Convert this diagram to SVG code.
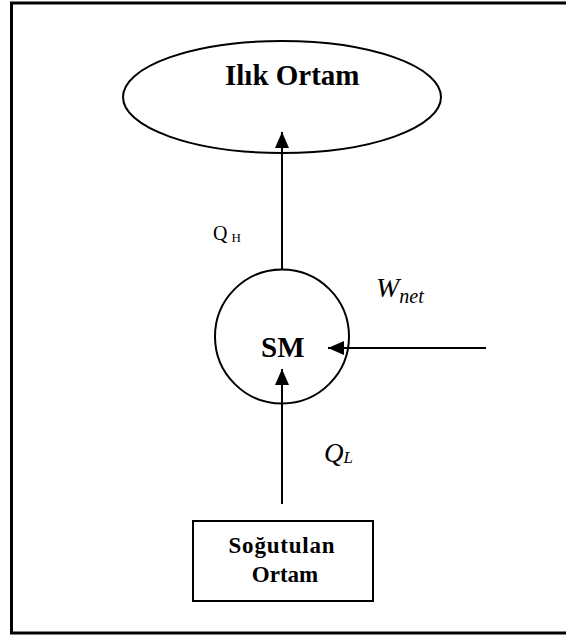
<svg xmlns="http://www.w3.org/2000/svg" width="566" height="636" viewBox="0 0 566 636">
  <style>
    .shape { fill: #fff; stroke: #000; stroke-width: 2; }
    .edge { fill: none; stroke: #000; stroke-width: 2; }
    .bold { font-family: "Liberation Serif", "Times New Roman", serif; font-weight: bold; fill: #000; }
    .sym { font-family: "Liberation Serif", "Times New Roman", serif; fill: #000; }
    .it { font-style: italic; }
  </style>
  <defs>
    <marker id="arrow" markerUnits="userSpaceOnUse" markerWidth="16" markerHeight="16" viewBox="0 0 16 14" refX="16" refY="7" orient="auto">
      <path d="M0,0 L16,7 L0,14 Z" fill="#000"/>
    </marker>
  </defs>

  <rect width="566" height="636" fill="#fff"/>
  <!-- outer frame -->
  <rect x="11.5" y="3" width="600" height="630" fill="none" stroke="#000" stroke-width="3"/>

  <g id="ilik-ortam">
    <ellipse class="shape" cx="282" cy="97" rx="159" ry="56"/>
    <text class="bold" x="225" y="85" font-size="29">Ilık Ortam</text>
  </g>

  <g id="sm">
    <circle class="shape" cx="282" cy="336.5" r="67"/>
    <text class="bold" x="261" y="357" font-size="29">SM</text>
  </g>

  <g id="sogutulan-ortam">
    <rect class="shape" x="193" y="521" width="180" height="80"/>
    <text class="bold" x="282" y="553" font-size="23" text-anchor="middle" letter-spacing="0.8">Soğutulan</text>
    <text class="bold" x="285" y="582" font-size="23" text-anchor="middle">Ortam</text>
  </g>

  <g id="connectors">
    <line class="edge" x1="282" y1="269" x2="282" y2="132" marker-end="url(#arrow)"/>
    <line class="edge" x1="486" y1="348" x2="328" y2="348" marker-end="url(#arrow)"/>
    <line class="edge" x1="282" y1="504" x2="282" y2="369" marker-end="url(#arrow)"/>
  </g>

  <g id="labels">
    <text class="sym" x="213" y="240" font-size="20">Q<tspan font-size="13" dx="4" dy="2">H</tspan></text>
    <text class="sym it" x="376" y="297" font-size="28">W<tspan font-size="20" dy="6">net</tspan></text>
    <text class="sym it" x="324" y="462" font-size="27">Q<tspan font-size="17" dy="1">L</tspan></text>
  </g>
</svg>
